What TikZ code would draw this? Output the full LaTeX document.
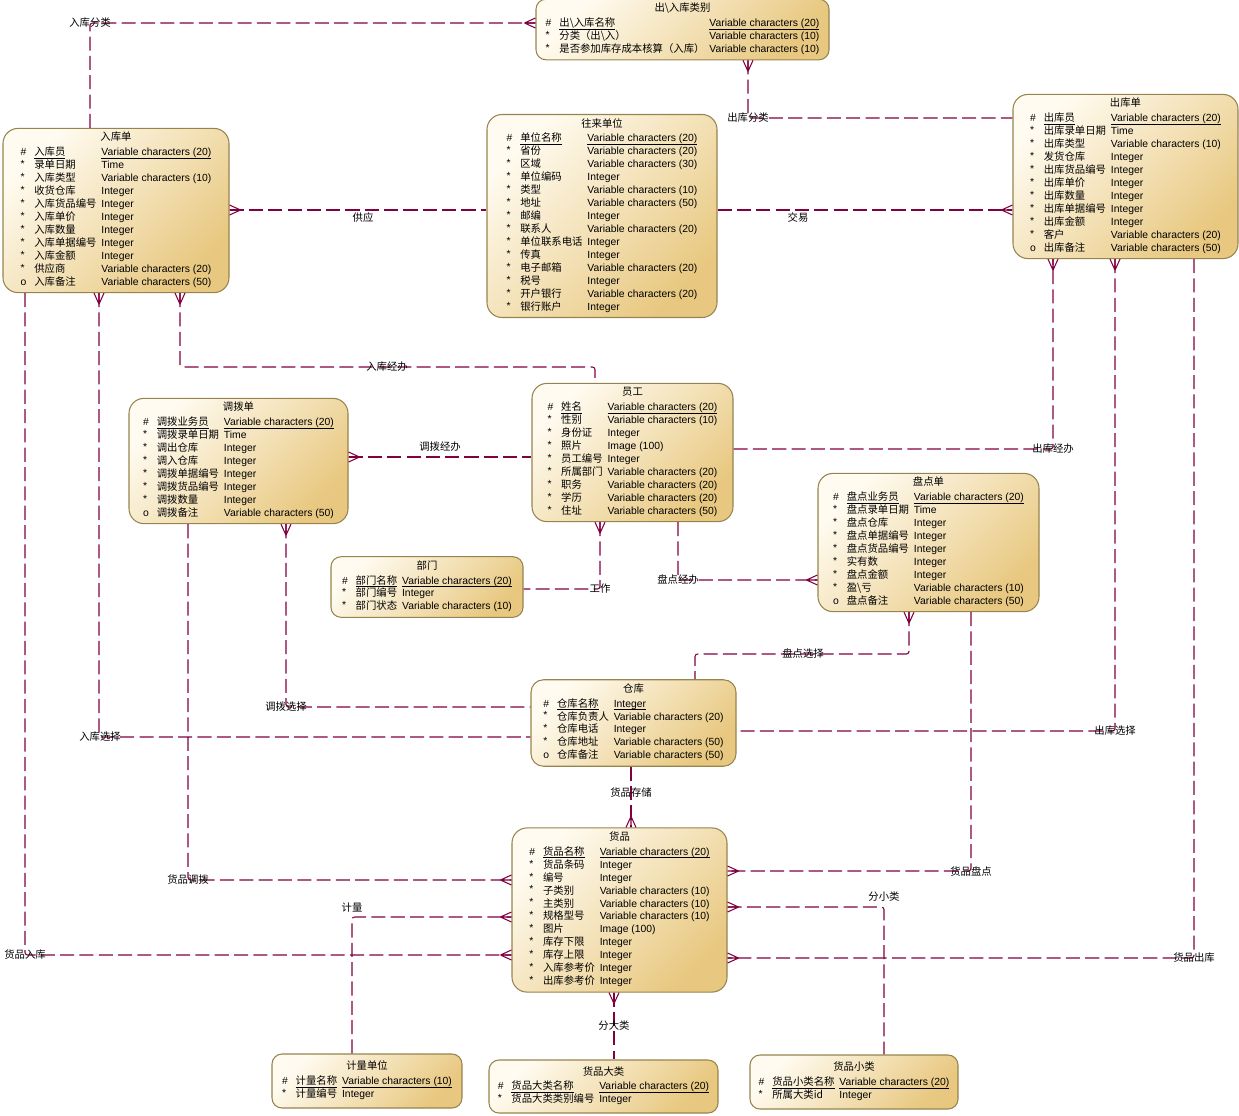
\documentclass[tikz,border=0pt]{standalone}
\usepackage{fontspec}
\setmainfont{Liberation Sans}
\newfontfamily\cjk{Noto Sans CJK SC}
\usepackage{array}
\usetikzlibrary{calc}

\definecolor{relcol}{RGB}{128,0,64}
\definecolor{entline}{RGB}{150,132,78}
\definecolor{entlight}{RGB}{255,251,240}
\definecolor{entdark}{RGB}{232,200,128}

\newcommand{\enttab}[2]{\begin{tabular}{@{}l@{\hspace{4.5pt}}>{\cjk}l@{\hspace{2.8pt}}l@{}}\multicolumn{3}{c}{\cjk #1}\\[1pt] #2\end{tabular}}
\newcommand{\keyline}[1]{\underline{\smash{#1}}}
\newcommand{\pkrow}[2]{\# & \keyline{#1} & \keyline{#2}\\}
\newcommand{\mand}{\raisebox{0.2ex}{*}}

\begin{document}
\begin{tikzpicture}[x=0.02cm, y=-0.02cm,
    ent/.style 2 args={draw=entline, line width=0.6pt, rounded corners=0.3cm,
        top color=entlight, bottom color=entdark, shading angle=45,
        minimum width=#1*0.02cm, minimum height=#2*0.02cm, inner sep=2pt,
        font=\fontsize{5.9}{7.37}\selectfont},
    rel/.style={draw=relcol, line width=0.6pt, dash pattern=on 8pt off 3pt, rounded corners=1.5pt},
    lbl/.style={font=\cjk\fontsize{5.9}{7}\selectfont, inner sep=0.5pt, text=black},
    pics/crow/.style={code={\draw[draw=relcol, line width=0.6pt, solid] (#1:11) -- (#1+90:5) (#1:11) -- (#1-90:5) (#1:11) -- (0,0);}}]
    \useasboundingbox (0,0) rectangle (1239,1115);

    % 实体
    \node[ent={293}{57}, rounded corners=0.2cm] (crklb) at (682.5,29.5) {\enttab{出\textbackslash 入库类别}{%
        \pkrow{出\textbackslash 入库名称}{Variable characters (20)}
        \mand & 分类（出\textbackslash 入） & Variable characters (10)\\
        \mand & 是否参加库存成本核算（入库） & Variable characters (10)\\}};

    \node[ent={226}{163}] (rkd) at (116,210.5) {\enttab{入库单}{%
        \pkrow{入库员}{Variable characters (20)}
        \mand & 录单日期 & Time\\
        \mand & 入库类型 & Variable characters (10)\\
        \mand & 收货仓库 & Integer\\
        \mand & 入库货品编号 & Integer\\
        \mand & 入库单价 & Integer\\
        \mand & 入库数量 & Integer\\
        \mand & 入库单据编号 & Integer\\
        \mand & 入库金额 & Integer\\
        \mand & 供应商 & Variable characters (20)\\
        o & 入库备注 & Variable characters (50)\\}};

    \node[ent={230}{202}] (wldw) at (602,216) {\enttab{往来单位}{%
        \pkrow{单位名称}{Variable characters (20)}
        \mand & 省份 & Variable characters (20)\\
        \mand & 区域 & Variable characters (30)\\
        \mand & 单位编码 & Integer\\
        \mand & 类型 & Variable characters (10)\\
        \mand & 地址 & Variable characters (50)\\
        \mand & 邮编 & Integer\\
        \mand & 联系人 & Variable characters (20)\\
        \mand & 单位联系电话 & Integer\\
        \mand & 传真 & Integer\\
        \mand & 电子邮箱 & Variable characters (20)\\
        \mand & 税号 & Integer\\
        \mand & 开户银行 & Variable characters (20)\\
        \mand & 银行账户 & Integer\\}};

    \node[ent={225}{161}] (ckd) at (1125.5,176.5) {\enttab{出库单}{%
        \pkrow{出库员}{Variable characters (20)}
        \mand & 出库录单日期 & Time\\
        \mand & 出库类型 & Variable characters (10)\\
        \mand & 发货仓库 & Integer\\
        \mand & 出库货品编号 & Integer\\
        \mand & 出库单价 & Integer\\
        \mand & 出库数量 & Integer\\
        \mand & 出库单据编号 & Integer\\
        \mand & 出库金额 & Integer\\
        \mand & 客户 & Variable characters (20)\\
        o & 出库备注 & Variable characters (50)\\}};

    \node[ent={219}{122}] (dbd) at (238.5,461) {\enttab{调拨单}{%
        \pkrow{调拨业务员}{Variable characters (20)}
        \mand & 调拨录单日期 & Time\\
        \mand & 调出仓库 & Integer\\
        \mand & 调入仓库 & Integer\\
        \mand & 调拨单据编号 & Integer\\
        \mand & 调拨货品编号 & Integer\\
        \mand & 调拨数量 & Integer\\
        o & 调拨备注 & Variable characters (50)\\}};

    \node[ent={201}{135}] (yg) at (632.5,452.5) {\enttab{员工}{%
        \pkrow{姓名}{Variable characters (20)}
        \mand & 性别 & Variable characters (10)\\
        \mand & 身份证 & Integer\\
        \mand & 照片 & Image (100)\\
        \mand & 员工编号 & Integer\\
        \mand & 所属部门 & Variable characters (20)\\
        \mand & 职务 & Variable characters (20)\\
        \mand & 学历 & Variable characters (20)\\
        \mand & 住址 & Variable characters (50)\\}};

    \node[ent={221}{135}] (pdd) at (928.5,542.5) {\enttab{盘点单}{%
        \pkrow{盘点业务员}{Variable characters (20)}
        \mand & 盘点录单日期 & Time\\
        \mand & 盘点仓库 & Integer\\
        \mand & 盘点单据编号 & Integer\\
        \mand & 盘点货品编号 & Integer\\
        \mand & 实有数 & Integer\\
        \mand & 盘点金额 & Integer\\
        \mand & 盈\textbackslash 亏 & Variable characters (10)\\
        o & 盘点备注 & Variable characters (50)\\}};

    \node[ent={192}{58}, rounded corners=0.2cm] (bm) at (427,587) {\enttab{部门}{%
        \pkrow{部门名称}{Variable characters (20)}
        \mand & 部门编号 & Integer\\
        \mand & 部门状态 & Variable characters (10)\\}};

    \node[ent={205}{84}, rounded corners=0.25cm] (ck) at (633.5,723) {\enttab{仓库}{%
        \pkrow{仓库名称}{Integer}
        \mand & 仓库负责人 & Variable characters (20)\\
        \mand & 仓库电话 & Integer\\
        \mand & 仓库地址 & Variable characters (50)\\
        o & 仓库备注 & Variable characters (50)\\}};

    \node[ent={215}{162}] (hp) at (619.5,910) {\enttab{货品}{%
        \pkrow{货品名称}{Variable characters (20)}
        \mand & 货品条码 & Integer\\
        \mand & 编号 & Integer\\
        \mand & 子类别 & Variable characters (10)\\
        \mand & 主类别 & Variable characters (10)\\
        \mand & 规格型号 & Variable characters (10)\\
        \mand & 图片 & Image (100)\\
        \mand & 库存下限 & Integer\\
        \mand & 库存上限 & Integer\\
        \mand & 入库参考价 & Integer\\
        \mand & 出库参考价 & Integer\\}};

    \node[ent={190}{54}, rounded corners=0.2cm] (jldw) at (367,1081) {\enttab{计量单位}{%
        \pkrow{计量名称}{Variable characters (10)}
        \mand & 计量编号 & Integer\\}};

    \node[ent={229}{53}, rounded corners=0.2cm] (hpdl) at (603.5,1086.5) {\enttab{货品大类}{%
        \pkrow{货品大类名称}{Variable characters (20)}
        \mand & 货品大类类别编号 & Integer\\}};

    \node[ent={208}{54}, rounded corners=0.2cm] (hpxl) at (854,1082) {\enttab{货品小类}{%
        \pkrow{货品小类名称}{Variable characters (20)}
        \mand & 所属大类id & Integer\\}};

    % 联系
    \draw[rel] (rkd.north -| 90,0) |- (crklb.west |- 0,23);
    \pic at (crklb.west |- 0,23) {crow=180};
    \node[lbl] (lrkfl) at (90,23) {入库分类};

    \draw[rel] (crklb.south -| 748,0) |- (ckd.west |- 0,118);
    \pic at (crklb.south -| 748,0) {crow=90};
    \node[lbl] (lckfl) at (748,118) {出库分类};

    \draw[rel] (rkd.east |- 0,210) -- (wldw.west |- 0,210);
    \pic at (rkd.east |- 0,210) {crow=0};
    \node[lbl] (lgy) at (363,218) {供应};

    \draw[rel] (wldw.east |- 0,210) -- (ckd.west |- 0,210);
    \pic at (ckd.west |- 0,210) {crow=180};
    \node[lbl] (ljy) at (798,218) {交易};

    \draw[rel] (rkd.south -| 180,0) |- (595,367) -- (yg.north -| 595,0);
    \pic at (rkd.south -| 180,0) {crow=90};
    \node[lbl] (lrkjb) at (387,367) {入库经办};

    \draw[rel] (dbd.east |- 0,457) -- (yg.west |- 0,457);
    \pic at (dbd.east |- 0,457) {crow=0};
    \node[lbl] (ldbjb) at (440,447) {调拨经办};

    \draw[rel] (yg.east |- 0,449) -| (ckd.south -| 1053,0);
    \pic at (ckd.south -| 1053,0) {crow=90};
    \node[lbl] (lckjb) at (1053,449) {出库经办};

    \draw[rel] (yg.south -| 600,0) |- (bm.east |- 0,589);
    \pic at (yg.south -| 600,0) {crow=90};
    \node[lbl] (lgz) at (600,589) {工作};

    \draw[rel] (yg.south -| 678,0) |- (pdd.west |- 0,580);
    \pic at (pdd.west |- 0,580) {crow=180};
    \node[lbl] (lpdjb) at (678,580) {盘点经办};

    \draw[rel] (pdd.south -| 909,0) |- (695,654) -- (ck.north -| 695,0);
    \pic at (pdd.south -| 909,0) {crow=90};
    \node[lbl] (lpdxz) at (803,654) {盘点选择};

    \draw[rel] (dbd.south -| 286,0) |- (ck.west |- 0,707);
    \pic at (dbd.south -| 286,0) {crow=90};
    \node[lbl] (ldbxz) at (286,707) {调拨选择};

    \draw[rel] (rkd.south -| 99,0) |- (ck.west |- 0,737);
    \pic at (rkd.south -| 99,0) {crow=90};
    \node[lbl] (lrkxz) at (100,737) {入库选择};

    \draw[rel] (ckd.south -| 1115,0) |- (ck.east |- 0,731);
    \pic at (ckd.south -| 1115,0) {crow=90};
    \node[lbl] (lckxz) at (1115,731) {出库选择};

    \draw[rel] (ck.south -| 631,0) -- (hp.north -| 631,0);
    \pic at (hp.north -| 631,0) {crow=270};
    \node[lbl] (lhpcc) at (631,793) {货品存储};

    \draw[rel] (pdd.south -| 971,0) |- (hp.east |- 0,871);
    \pic at (hp.east |- 0,871) {crow=0};
    \node[lbl] (lhppd) at (971,871) {货品盘点};

    \draw[rel] (dbd.south -| 188,0) |- (hp.west |- 0,880);
    \pic at (hp.west |- 0,880) {crow=180};
    \node[lbl] (lhpdb) at (188,880) {货品调拨};

    \draw[rel] (jldw.north -| 352,0) |- (hp.west |- 0,917);
    \pic at (hp.west |- 0,917) {crow=180};
    \node[lbl] (ljl) at (352,908) {计量};

    \draw[rel] (hp.east |- 0,907) -| (hpxl.north -| 884,0);
    \pic at (hp.east |- 0,907) {crow=0};
    \node[lbl] (lfxl) at (884,897) {分小类};

    \draw[rel] (rkd.south -| 25,0) |- (hp.west |- 0,955);
    \pic at (hp.west |- 0,955) {crow=180};
    \node[lbl] (lhprk) at (25,955) {货品入库};

    \draw[rel] (ckd.south -| 1194,0) |- (hp.east |- 0,958);
    \pic at (hp.east |- 0,958) {crow=0};
    \node[lbl] (lhpck) at (1194,958) {货品出库};

    \draw[rel] (hp.south -| 614,0) -- (hpdl.north -| 614,0);
    \pic at (hp.south -| 614,0) {crow=90};
    \node[lbl] (lfdl) at (614,1026) {分大类};
\end{tikzpicture}
\end{document}
